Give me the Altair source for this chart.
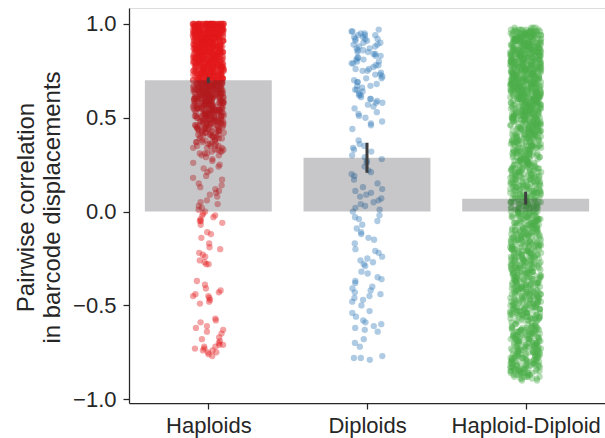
import json
import altair as alt
import pandas as pd

categories = ["Haploids", "Diploids", "Haploid-Diploid"]
bar_means = [0.70, 0.287, 0.068]
ci_low = [0.685, 0.207, 0.037]
ci_high = [0.716, 0.367, 0.106]
colors = ["#e41a1c", "#377eb8", "#4daf4a"]

# Haploids: dense part as (level in hundredths, number of points)
hap_levels = [100, 99, 98, 97, 96, 95, 94, 93, 92, 91,
              90, 89, 88, 87, 86, 85, 84, 83, 82, 81,
              80, 79, 78, 77, 76, 75, 74, 73, 72, 71,
              70, 69, 68, 67, 66, 65, 64, 63, 62, 61,
              60, 59, 58, 57, 56, 55, 54, 53, 52, 51,
              50, 49, 48, 47, 46, 45, 44, 43, 42, 41,
              40, 39, 38, 37, 36, 35, 34, 33, 32, 31,
              30]
hap_counts = [40, 34, 30, 28, 26, 25, 24, 23, 22, 22,
              21, 20, 20, 20, 19, 19, 19, 18, 18, 18,
              18, 17, 17, 17, 16, 16, 16, 16, 15, 15,
              15, 15, 14, 14, 14, 14, 13, 13, 13, 13,
              12, 12, 12, 11, 11, 11, 11, 10, 10, 10,
              9, 9, 9, 8, 8, 7, 7, 6, 6, 5,
              5, 4, 4, 4, 3, 4, 3, 3, 3, 3,
              2]
# Haploids: sparse points (hundredths)
hap_sparse = [29, 28, 27, 26, 25, 24, 23, 22, 21, 19, 18, 17, 15, 14, 13, 12, 11, 10, 9, 8,
              6, 5, 4, 3, 2, 1, 0, -1, -2, -2, -3, -4, -5, -5, -6, -7, -11, -12, -14, -17,
              -19, -20, -22, -23, -24, -26, -27, -28, -28, -37, -39, -41, -42, -43, -44, -45,
              -45, -46, -47, -48, -49, -57, -58, -59, -61, -62, -63, -64, -65, -67, -68, -69,
              -70, -71, -71, -72, -72, -73, -73, -74, -74, -75, -75, -76, -77]

# Diploids: individual points (hundredths)
dip_values = [97, 96, 96, 95, 95, 94, 94, 94, 93, 93, 92, 92, 92, 91, 91, 90, 90, 89, 89, 88,
              88, 87, 87, 86, 86, 85, 85, 84, 84, 83, 83, 82, 82, 81, 81, 80, 80, 79, 79, 78,
              78, 77, 76, 76, 75, 75, 74, 73, 73, 72, 71, 71, 70, 69, 69, 68, 67, 67, 66, 65,
              65, 64, 63, 62, 62, 61, 60, 60,
              59, 58, 58, 57, 56, 55, 53, 52, 51, 50, 48, 47, 46, 44, 38, 36, 35, 34, 33, 32, 30,
              29, 28, 27, 26, 24, 22, 21, 20, 19, 17, 15, 13, 12, 11, 10, 9, 8, 7, 6, 5, 4, 3,
              2, 1, 0,
              -2, -3, -4, -5, -7, -9, -11, -12, -14, -15, -17, -20, -21, -22, -24, -25, -26, -27,
              -28, -29, -32, -33, -35, -36, -37, -38, -40, -41, -42, -43, -44, -45, -46, -47,
              -48, -50, -53, -54, -56, -58, -59, -60, -61, -62, -63, -64, -68, -70, -72, -77,
              -78, -78, -79]

# Haploid-Diploid: (level in hundredths, number of points)
hd_levels = [98, 97, 96, 95, 94, 93, 92, 91, 90, 89,
             88, 87, 86, 85, 84, 83, 82, 81, 80, 79,
             78, 77, 76, 75, 74, 73, 72, 71, 70, 69,
             68, 67, 66, 65, 64, 63, 62, 61, 60, 59,
             58, 57, 56, 55, 54, 53, 52, 51, 50, 49,
             48, 47, 46, 45, 44, 43, 42, 41, 40, 39,
             38, 37, 36, 35, 34, 33, 32, 31, 30, 29,
             28, 27, 26, 25, 24, 23, 22, 21, 20, 19,
             18, 17, 16, 15, 14, 13, 12, 11, 10, 9,
             8, 7, 6, 5, 4, 3, 2, 1, 0, -1,
             -2, -3, -4, -5, -6, -7, -8, -9, -10, -11,
             -12, -13, -14, -15, -16, -17, -18, -19, -20, -21,
             -22, -23, -24, -25, -26, -27, -28, -29, -30, -31,
             -32, -33, -34, -35, -36, -37, -38, -39, -40, -41,
             -42, -43, -44, -45, -46, -47, -48, -49, -50, -51,
             -52, -53, -54, -55, -56, -57, -58, -59, -60, -61,
             -62, -63, -64, -65, -66, -67, -68, -69, -70, -71,
             -72, -73, -74, -75, -76, -77, -78, -79, -80, -81,
             -82, -83, -84, -85, -86, -87, -88, -89, -90]
hd_counts = [4, 8, 12, 14, 14, 14, 14, 14, 14, 14,
             14, 14, 14, 14, 14, 14, 14, 14, 14, 14,
             14, 13, 14, 14, 14, 13, 14, 14, 14, 14,
             14, 14, 13, 14, 14, 14, 13, 14, 14, 13,
             13, 12, 12, 11, 12, 12, 11, 12, 11, 11,
             10, 9, 10, 9, 10, 10, 9, 10, 9, 9,
             8, 8, 9, 8, 8, 8, 8, 8, 8, 7,
             8, 8, 8, 8, 7, 8, 8, 8, 7, 8,
             8, 7, 8, 8, 8, 7, 8, 8, 8, 8,
             8, 8, 7, 8, 8, 8, 8, 7, 8, 8,
             8, 8, 8, 8, 8, 8, 8, 8, 8, 8,
             8, 8, 8, 7, 8, 8, 8, 8, 8, 8,
             8, 8, 8, 8, 8, 7, 8, 8, 8, 8,
             8, 8, 7, 8, 8, 8, 8, 8, 8, 8,
             8, 8, 8, 8, 7, 8, 8, 8, 8, 8,
             8, 8, 8, 8, 8, 8, 5, 4, 4, 5,
             8, 8, 8, 8, 8, 8, 8, 8, 8, 8,
             8, 8, 8, 8, 8, 8, 8, 8, 8, 8,
             8, 8, 8, 8, 8, 7, 5, 4, 2]

rows = []
for lv, c in zip(hap_levels, hap_counts):
    rows += [(0, lv / 100)] * c
rows += [(0, v / 100) for v in hap_sparse]
rows += [(1, v / 100) for v in dip_values]
for lv, c in zip(hd_levels, hd_counts):
    rows += [(2, lv / 100)] * c
pts = pd.DataFrame(rows, columns=["pos", "r"])
pts["idx"] = range(len(pts))

bars_df = pd.DataFrame({"pos": [0, 1, 2], "mean": bar_means, "lo": ci_low, "hi": ci_high})

axis_col = "#262626"
font = "Liberation Sans"

xscale = alt.Scale(domain=[-0.5, 2.5], nice=False, zero=False)
xaxis = alt.Axis(title=None, values=[0, 1, 2],
                 labelExpr=json.dumps(categories) + "[datum.value]",
                 labelAngle=0, labelFontSize=22, labelColor=axis_col, tickSize=6,
                 tickColor=axis_col, tickWidth=1.25, domainColor=axis_col, domainWidth=1.25,
                 labelPadding=6, grid=False, labelFlush=False, labelOverlap=False)
yscale = alt.Scale(domain=[-1.02, 1.085], nice=False, zero=False)
yaxis = alt.Axis(values=[-1, -0.5, 0, 0.5, 1], format=".1f",
                 labelExpr="replace(datum.label, '-', '\u2212')",
                 title=["Pairwise correlation", "in barcode displacements"],
                 titleFontSize=24, titleFontWeight="normal", titleColor=axis_col,
                 titleX=-115, titleY=199, titleAlign="center", titleBaseline="top",
                 titleAngle=270, titleLineHeight=26,
                 labelFontSize=22, labelColor=axis_col, labelPadding=7, tickSize=6,
                 tickColor=axis_col, tickWidth=1.25, domainColor=axis_col, domainWidth=1.25,
                 grid=False)

points = alt.Chart(pts).transform_calculate(
    xp="datum.pos + 0.195 * ((abs(sin(datum.idx * 12.9898) * 43758.5453) % 1) - 0.5)"
).mark_circle(size=40, opacity=0.4).encode(
    x=alt.X("xp:Q", scale=xscale, axis=xaxis),
    y=alt.Y("r:Q", scale=yscale, axis=yaxis),
    color=alt.Color("pos:N", scale=alt.Scale(domain=[0, 1, 2], range=colors), legend=None),
)

# translucent dark bars drawn over the points
bars = alt.Chart(bars_df).transform_calculate(
    xa="datum.pos - 0.4", xb="datum.pos + 0.4"
).mark_rect(color="#1e2026", opacity=0.25).encode(
    x=alt.X("xa:Q", scale=xscale),
    x2="xb:Q",
    y=alt.Y("mean:Q", scale=yscale),
    y2=alt.datum(0),
)

err = alt.Chart(bars_df).mark_rule(color="#3d3d3d", strokeWidth=3).encode(
    x=alt.X("pos:Q", scale=xscale),
    y=alt.Y("lo:Q", scale=yscale),
    y2="hi:Q",
)

chart = alt.layer(points, bars, err).properties(
    width=476, height=395,
    autosize=alt.AutoSizeParams(type="none"),
    padding={"left": 129, "top": 8, "right": 0, "bottom": 35},
).configure_view(stroke=None).configure(font=font, background="white")

chart.save("out.html", embed_options={"renderer": "svg", "actions": False})
